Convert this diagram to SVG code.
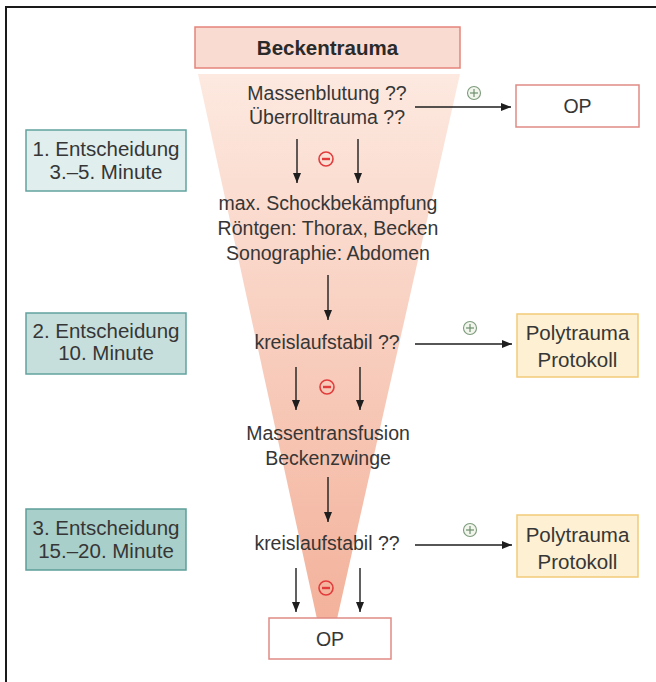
<svg xmlns="http://www.w3.org/2000/svg" width="656" height="682" viewBox="0 0 656 682">
<defs>
  <linearGradient id="funnelGrad" x1="0" y1="0" x2="0" y2="1">
    <stop offset="0" stop-color="#fde9e0"/>
    <stop offset="1" stop-color="#f3b29b"/>
  </linearGradient>
  <marker id="arrow" markerWidth="10" markerHeight="8" refX="10" refY="4" orient="auto" markerUnits="userSpaceOnUse">
    <path d="M0,0 L10,4 L0,8 Z" fill="#1e1e1e"/>
  </marker>
</defs>
<style>
  text { font-family: "Liberation Sans", Arial, sans-serif; fill: #363636; text-anchor: middle; }
  .t { font-size: 19.5px; }
  .bt { font-size: 20.5px; }
  .title { font-size: 20.5px; font-weight: bold; fill: #2a2a2a; }
  .conn { stroke: #1e1e1e; stroke-width: 1.4; fill: none; }
  .red { fill: #fadbd2; stroke: #e4847a; stroke-width: 1.5; }
  .op { fill: #ffffff; stroke: #e08a84; stroke-width: 1.5; }
  .teal1 { fill: #e0eeee; stroke: #62a39e; stroke-width: 1.5; }
  .teal2 { fill: #c6dfdd; stroke: #62a39e; stroke-width: 1.5; }
  .teal3 { fill: #a9cfca; stroke: #5e9e99; stroke-width: 1.5; }
  .poly { fill: #fdf0d3; stroke: #f2cb78; stroke-width: 1.5; }
  .plus { fill: #f1f5ec; stroke: #7d9b7d; stroke-width: 1.1; }
  .plusl { stroke: #6f8f6f; stroke-width: 1.2; }
  .minus { fill: none; stroke: #e23c3c; stroke-width: 1.6; }
  .minusl { stroke: #e23c3c; stroke-width: 2.4; }
</style>

<!-- frame -->
<path d="M6,682 L6,7 L656,7" fill="none" stroke="#1a1a1a" stroke-width="2"/>

<!-- funnel -->
<polygon points="198,74 460,74 337,619 317,619" fill="url(#funnelGrad)"/>

<g id="beckentrauma">
  <rect class="red" x="195" y="27" width="265" height="41"/>
  <text class="title" x="327.5" y="55">Beckentrauma</text>
</g>

<g id="q1">
  <text class="t" x="327" y="100">Massenblutung ??</text>
  <text class="t" x="327" y="124">Überrolltrauma ??</text>
</g>

<g id="op1">
  <rect class="op" x="516" y="85" width="123" height="42"/>
  <text class="t" x="577.5" y="113">OP</text>
</g>

<g id="entscheidung1">
  <rect class="teal1" x="26" y="130" width="160" height="61"/>
  <text class="bt" x="106" y="156">1. Entscheidung</text>
  <text class="bt" x="106" y="179">3.–5. Minute</text>
</g>

<g id="massnahmen1">
  <text class="t" x="328" y="210">max. Schockbekämpfung</text>
  <text class="t" x="328" y="235">Röntgen: Thorax, Becken</text>
  <text class="t" x="328" y="260">Sonographie: Abdomen</text>
</g>

<g id="q2">
  <text class="t" x="327" y="349">kreislaufstabil ??</text>
</g>

<g id="entscheidung2">
  <rect class="teal2" x="26" y="313" width="160" height="61"/>
  <text class="bt" x="106" y="338">2. Entscheidung</text>
  <text class="bt" x="106" y="360">10. Minute</text>
</g>

<g id="polytrauma1">
  <rect class="poly" x="517" y="314" width="121" height="63"/>
  <text class="bt" x="577.5" y="340">Polytrauma</text>
  <text class="bt" x="577.5" y="367">Protokoll</text>
</g>

<g id="massnahmen2">
  <text class="t" x="328" y="440">Massentransfusion</text>
  <text class="t" x="328" y="465">Beckenzwinge</text>
</g>

<g id="q3">
  <text class="t" x="327" y="550">kreislaufstabil ??</text>
</g>

<g id="entscheidung3">
  <rect class="teal3" x="26" y="509" width="160" height="61"/>
  <text class="bt" x="106" y="535">3. Entscheidung</text>
  <text class="bt" x="106" y="558">15.–20. Minute</text>
</g>

<g id="polytrauma2">
  <rect class="poly" x="517" y="515" width="121" height="62"/>
  <text class="bt" x="577.5" y="542">Polytrauma</text>
  <text class="bt" x="577.5" y="569">Protokoll</text>
</g>

<g id="op2">
  <rect class="op" x="269" y="618" width="122" height="41"/>
  <text class="t" x="330" y="646">OP</text>
</g>

<g id="connectors">
  <line class="conn" x1="415" y1="107" x2="511" y2="107" marker-end="url(#arrow)"/>
  <line class="conn" x1="297" y1="139" x2="297" y2="183" marker-end="url(#arrow)"/>
  <line class="conn" x1="358" y1="139" x2="358" y2="183" marker-end="url(#arrow)"/>
  <line class="conn" x1="328" y1="275" x2="328" y2="320" marker-end="url(#arrow)"/>
  <line class="conn" x1="415" y1="344" x2="512" y2="344" marker-end="url(#arrow)"/>
  <line class="conn" x1="296" y1="367" x2="296" y2="410" marker-end="url(#arrow)"/>
  <line class="conn" x1="360" y1="367" x2="360" y2="410" marker-end="url(#arrow)"/>
  <line class="conn" x1="328" y1="477" x2="328" y2="522" marker-end="url(#arrow)"/>
  <line class="conn" x1="415" y1="545" x2="512" y2="545" marker-end="url(#arrow)"/>
  <line class="conn" x1="296" y1="568" x2="296" y2="612" marker-end="url(#arrow)"/>
  <line class="conn" x1="360" y1="568" x2="360" y2="612" marker-end="url(#arrow)"/>

  <g id="plus1">
    <circle class="plus" cx="474" cy="93" r="6.5"/>
    <line class="plusl" x1="470" y1="93" x2="478" y2="93"/>
    <line class="plusl" x1="474" y1="89" x2="474" y2="97"/>
  </g>
  <g id="plus2">
    <circle class="plus" cx="470" cy="328" r="6.5"/>
    <line class="plusl" x1="466" y1="328" x2="474" y2="328"/>
    <line class="plusl" x1="470" y1="324" x2="470" y2="332"/>
  </g>
  <g id="plus3">
    <circle class="plus" cx="470" cy="530" r="6.5"/>
    <line class="plusl" x1="466" y1="530" x2="474" y2="530"/>
    <line class="plusl" x1="470" y1="526" x2="470" y2="534"/>
  </g>
  <g id="minus1">
    <circle class="minus" cx="326" cy="159" r="7"/>
    <line class="minusl" x1="322" y1="159" x2="330" y2="159"/>
  </g>
  <g id="minus2">
    <circle class="minus" cx="327" cy="387" r="7"/>
    <line class="minusl" x1="323" y1="387" x2="331" y2="387"/>
  </g>
  <g id="minus3">
    <circle class="minus" cx="326" cy="588" r="7"/>
    <line class="minusl" x1="322" y1="588" x2="330" y2="588"/>
  </g>
</g>
</svg>
